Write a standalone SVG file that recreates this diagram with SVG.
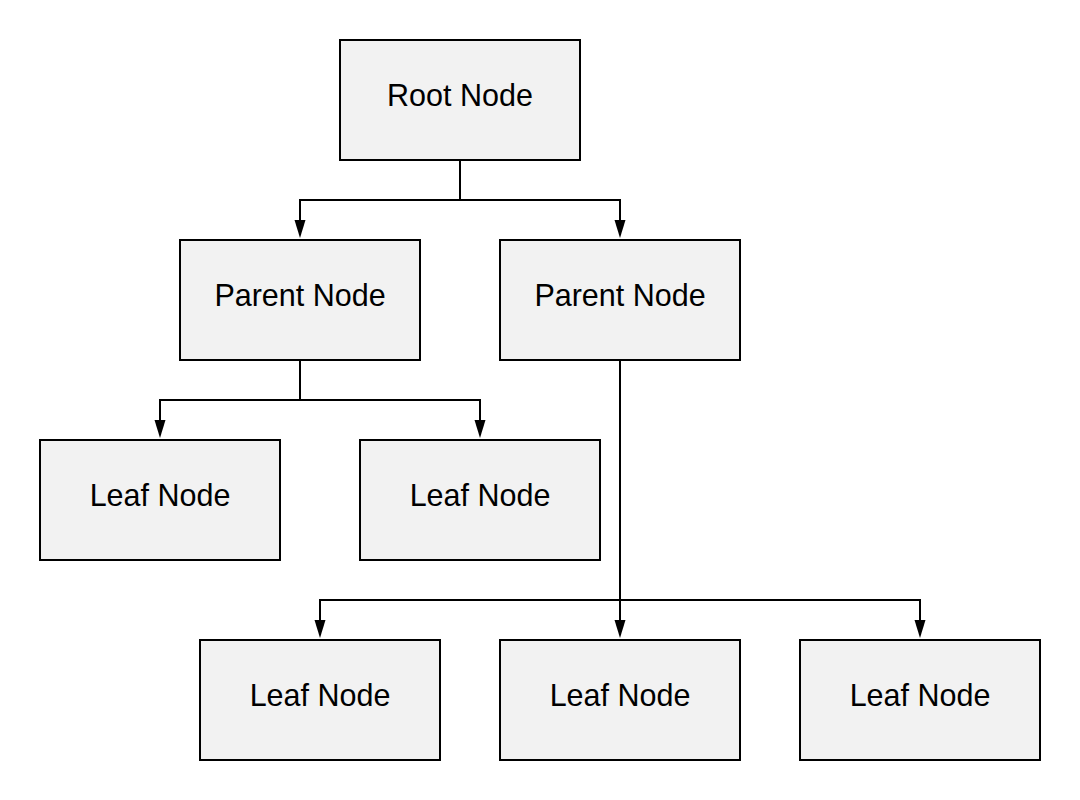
<svg xmlns="http://www.w3.org/2000/svg" width="1080" height="800" viewBox="0 0 1080 800">
<style>
.box{fill:#f2f2f2;stroke:#000;stroke-width:2}
.lbl{font-family:"Liberation Sans",Arial,sans-serif;font-size:30.5px;fill:#000;text-anchor:middle}
.ln{fill:none;stroke:#000;stroke-width:2}
.ah{fill:#000}
</style>
<rect width="1080" height="800" fill="#fff"/>
<g id="connectors">
<path class="ln" d="M460,160 V200 H300 V221"/>
<path class="ah" d="M300,220 L294.5,220 L300,238 L305.5,220 Z"/>
<path class="ln" d="M460,200 H620 V221"/>
<path class="ah" d="M620,220 L614.5,220 L620,238 L625.5,220 Z"/>
<path class="ln" d="M300,360 V400 H160 V421"/>
<path class="ah" d="M160,420 L154.5,420 L160,438 L165.5,420 Z"/>
<path class="ln" d="M300,400 H480 V421"/>
<path class="ah" d="M480,420 L474.5,420 L480,438 L485.5,420 Z"/>
<path class="ln" d="M620,360 V621"/>
<path class="ah" d="M620,620 L614.5,620 L620,638 L625.5,620 Z"/>
<path class="ln" d="M320,621 V600 H920 V621"/>
<path class="ah" d="M320,620 L314.5,620 L320,638 L325.5,620 Z"/>
<path class="ah" d="M920,620 L914.5,620 L920,638 L925.5,620 Z"/>
</g>
<g id="root"><rect class="box" x="340" y="40" width="240" height="120"/><text class="lbl" x="460" y="106">Root Node</text></g>
<g id="parent1"><rect class="box" x="180" y="240" width="240" height="120"/><text class="lbl" x="300" y="306">Parent Node</text></g>
<g id="parent2"><rect class="box" x="500" y="240" width="240" height="120"/><text class="lbl" x="620" y="306">Parent Node</text></g>
<g id="leaf1"><rect class="box" x="40" y="440" width="240" height="120"/><text class="lbl" x="160" y="506">Leaf Node</text></g>
<g id="leaf2"><rect class="box" x="360" y="440" width="240" height="120"/><text class="lbl" x="480" y="506">Leaf Node</text></g>
<g id="leaf3"><rect class="box" x="200" y="640" width="240" height="120"/><text class="lbl" x="320" y="706">Leaf Node</text></g>
<g id="leaf4"><rect class="box" x="500" y="640" width="240" height="120"/><text class="lbl" x="620" y="706">Leaf Node</text></g>
<g id="leaf5"><rect class="box" x="800" y="640" width="240" height="120"/><text class="lbl" x="920" y="706">Leaf Node</text></g>
</svg>
